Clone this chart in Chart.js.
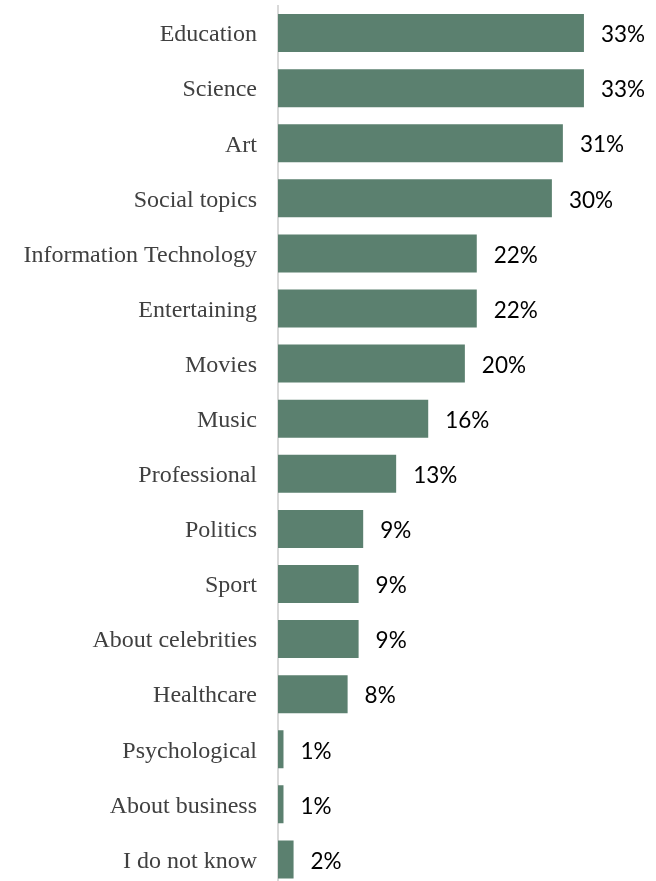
<!DOCTYPE html>
<html>
<head>
<meta charset="utf-8">
<script src="https://cdn.jsdelivr.net/npm/chart.js@4/dist/chart.umd.min.js"></script>
<style>
  html, body { margin: 0; padding: 0; background: #ffffff; overflow: hidden; }
  #wrap { position: relative; width: 656px; height: 887px; }
</style>
</head>
<body>
<div id="wrap"><canvas id="chart"></canvas></div>
<script>
// Topics of interest, share of respondents (%)
const categories = [
  'Education', 'Science', 'Art', 'Social topics', 'Information Technology',
  'Entertaining', 'Movies', 'Music', 'Professional', 'Politics', 'Sport',
  'About celebrities', 'Healthcare', 'Psychological', 'About business', 'I do not know'
];
const shares = [33.4, 33.4, 31.1, 29.9, 21.7, 21.7, 20.4, 16.4, 12.9, 9.3, 8.8, 8.8, 7.6, 0.6, 0.6, 1.7];

const barColor = '#5b806f';

// Percentage labels placed just past the end of each bar
const valueLabels = {
  id: 'valueLabels',
  afterDatasetsDraw(chart) {
    const ctx = chart.ctx;
    const meta = chart.getDatasetMeta(0);
    ctx.save();
    ctx.font = '22.5px Lato, "Open Sans", sans-serif';
    ctx.fillStyle = '#000000';
    ctx.textAlign = 'left';
    ctx.textBaseline = 'middle';
    meta.data.forEach((bar, i) => {
      const v = chart.data.datasets[0].data[i];
      ctx.fillText(Math.round(v) + '%', bar.x + 17, bar.y + 2);
    });
    ctx.restore();
  }
};

new Chart(document.getElementById('chart'), {
  type: 'bar',
  data: {
    labels: categories,
    datasets: [{
      data: shares,
      backgroundColor: barColor,
      borderWidth: 0,
      barPercentage: 0.69,
      categoryPercentage: 1.0
    }]
  },
  options: {
    indexAxis: 'y',
    responsive: true,
    maintainAspectRatio: false,
    animation: false,
    layout: { padding: { top: 5.5, right: 11.6, bottom: 0, left: 0 } },
    plugins: {
      legend: { display: false },
      tooltip: { enabled: false }
    },
    scales: {
      x: {
        display: false,
        min: 0,
        max: 40
      },
      y: {
        afterFit(scale) {
          scale.width = 278;
          // let the category rows use the full height
          scale.paddingTop = 0;
          scale.paddingBottom = 0;
        },
        grid: { display: false },
        border: { display: true, color: '#d9d9d9', width: 2 },
        ticks: {
          padding: 13,
          labelOffset: 2,
          color: '#404040',
          font: { family: '"Liberation Serif", "Times New Roman", serif', size: 24 }
        }
      }
    }
  },
  plugins: [valueLabels]
});
</script>
</body>
</html>
